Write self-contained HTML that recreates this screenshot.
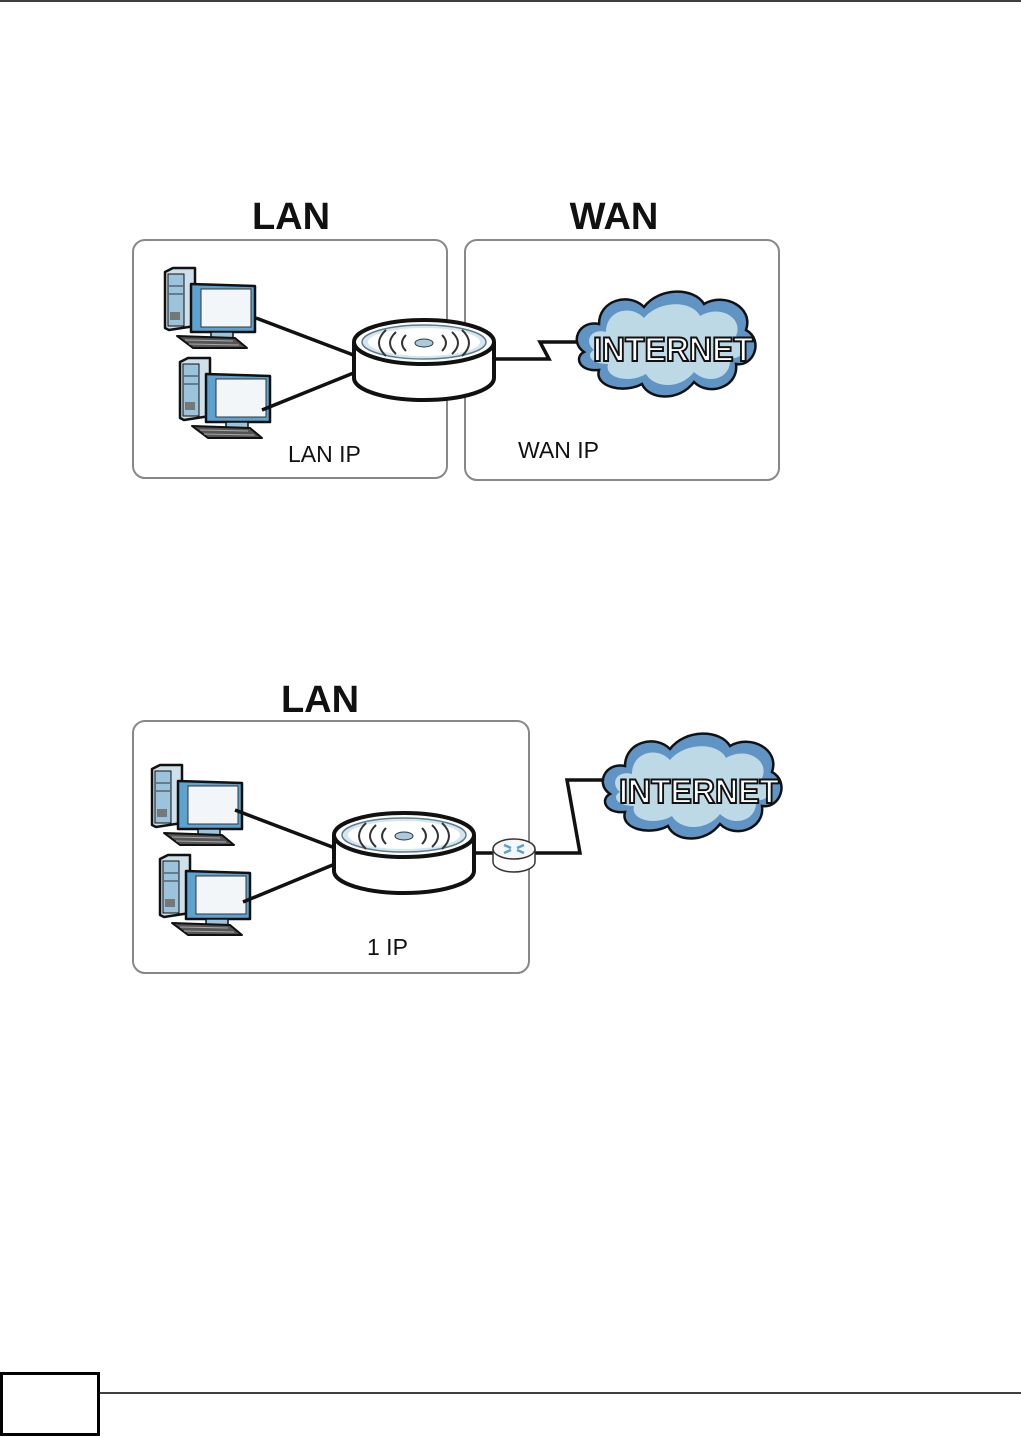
<!DOCTYPE html>
<html><head><style>
html,body{margin:0;padding:0;background:#fff;}
svg{display:block;}
text{font-family:"Liberation Sans",sans-serif;}
</style></head><body>
<svg width="1021" height="1437" viewBox="0 0 1021 1437" xmlns="http://www.w3.org/2000/svg">
<defs>
<g id="pc">
  <path d="M0,4 L8,0 L30,0 L30,58 L4,62 L0,60 Z" fill="#cfe0ea" stroke="#111" stroke-width="2.5" stroke-linejoin="round"/>
  <rect x="3" y="6" width="16" height="52" fill="#9cc3dc" stroke="#111" stroke-width="1"/>
  <line x1="4" y1="18" x2="18" y2="18" stroke="#333" stroke-width="1"/>
  <line x1="4" y1="26" x2="18" y2="26" stroke="#333" stroke-width="1"/>
  <rect x="5" y="44" width="10" height="8" fill="#777"/>
  <path d="M26,16 L90,18 L90,64 L26,64 Z" fill="#5ca3d1" stroke="#111" stroke-width="2.5" stroke-linejoin="round"/>
  <rect x="36" y="21" width="50" height="38" fill="#f2f6f8" stroke="#333" stroke-width="1"/>
  <rect x="46" y="64" width="22" height="6" fill="#9cc3dc" stroke="#111" stroke-width="1.5"/>
  <path d="M12,68 L70,70 L82,80 L28,80 Z" fill="#555" stroke="#111" stroke-width="2" stroke-linejoin="round"/>
  <path d="M20,72 L68,73 M24,76 L74,77" stroke="#aaa" stroke-width="1"/>
</g>
<g id="router">
  <path d="M-70,0 L-70,36 A70,22 0 0 0 70,36 L70,0" fill="#fff" stroke="#111" stroke-width="4"/>
  <ellipse cx="0" cy="0" rx="70" ry="22" fill="#fff" stroke="#111" stroke-width="4"/>
  <ellipse cx="0" cy="0" rx="62" ry="17" fill="#d5e6ef" stroke="#5a7d92" stroke-width="1.5"/>
  <ellipse cx="0" cy="0" rx="56" ry="14" fill="#fff" stroke="none"/>
  <ellipse cx="0" cy="1" rx="9" ry="4" fill="#a9cbe0" stroke="#333" stroke-width="1"/>
  <g fill="none" stroke="#333" stroke-width="2">
    <path d="M-18,-7 Q-26,1 -18,9 M18,-7 Q26,1 18,9"/>
    <path d="M-28,-10 Q-40,1 -28,12 M28,-10 Q40,1 28,12"/>
    <path d="M-38,-12 Q-52,1 -38,14 M38,-12 Q52,1 38,14"/>
  </g>
</g>
<g id="cloud">
  <path d="M10,60 C-5,50 5,28 25,32 C25,8 55,0 70,15 C85,-5 120,-5 130,12 C150,0 180,15 172,38 C190,48 180,75 162,72 C165,95 135,105 120,90 C105,110 75,108 68,92 C50,102 20,95 25,78 C5,80 0,65 10,60 Z" fill="#5f94c4" stroke="#111" stroke-width="2.5"/>
  <path d="M20,58 C10,50 16,36 32,40 C32,18 57,12 70,26 C85,8 118,8 126,24 C146,12 170,26 162,44 C176,52 170,68 156,66 C158,86 135,94 120,80 C106,98 80,96 72,82 C55,92 30,86 34,72 C16,72 12,62 20,58 Z" fill="#bdd9e6"/>
</g>
</defs>

<line x1="0" y1="1" x2="1021" y2="1" stroke="#000" stroke-width="1.5"/>

<text x="291" y="229" font-size="38" font-weight="bold" text-anchor="middle" fill="#111">LAN</text>
<text x="614" y="229" font-size="38" font-weight="bold" text-anchor="middle" fill="#111">WAN</text>
<rect x="133" y="240" width="314" height="238" rx="12" fill="none" stroke="#888" stroke-width="2"/>
<rect x="465" y="240" width="314" height="240" rx="12" fill="none" stroke="#888" stroke-width="2"/>
<use href="#pc" x="165" y="268"/>
<use href="#pc" x="180" y="358"/>
<line x1="256" y1="318" x2="356" y2="356" stroke="#111" stroke-width="3.5"/>
<line x1="262" y1="410" x2="356" y2="372" stroke="#111" stroke-width="3.5"/>
<polyline points="494,359 549,359 540,342 592,342" fill="none" stroke="#111" stroke-width="3.5"/>
<use href="#router" x="424" y="342"/>
<use href="#cloud" x="574" y="292"/>
<text x="673" y="361" font-size="34" font-weight="bold" text-anchor="middle" fill="#fff" stroke="#111" stroke-width="2" textLength="160" lengthAdjust="spacingAndGlyphs">INTERNET</text>
<text x="288" y="462" font-size="23" fill="#111">LAN IP</text>
<text x="518" y="458" font-size="23" fill="#111">WAN IP</text>

<text x="320" y="712" font-size="38" font-weight="bold" text-anchor="middle" fill="#111">LAN</text>
<rect x="133" y="721" width="396" height="252" rx="12" fill="none" stroke="#888" stroke-width="2"/>
<use href="#pc" x="152" y="765"/>
<use href="#pc" x="160" y="855"/>
<line x1="235" y1="810" x2="335" y2="848" stroke="#111" stroke-width="3.5"/>
<line x1="243" y1="902" x2="335" y2="864" stroke="#111" stroke-width="3.5"/>
<use href="#router" x="404" y="835"/>
<line x1="474" y1="853" x2="495" y2="853" stroke="#111" stroke-width="3.5"/>
<polyline points="534,853 580,853 567,780 612,780" fill="none" stroke="#111" stroke-width="3.5"/>
<g>
  <path d="M493,849 L493,862 A21,10 0 0 0 535,862 L535,849" fill="#fff" stroke="#333" stroke-width="1.5"/>
  <ellipse cx="514" cy="849" rx="21" ry="10" fill="#f4f8fa" stroke="#333" stroke-width="1.5"/>
  <path d="M504,845 L511,848 M524,845 L517,848 M504,853 L511,850 M524,853 L517,850" stroke="#5a9fd0" stroke-width="2.5"/>
</g>
<use href="#cloud" x="600" y="734"/>
<text x="699" y="803" font-size="34" font-weight="bold" text-anchor="middle" fill="#fff" stroke="#111" stroke-width="2" textLength="160" lengthAdjust="spacingAndGlyphs">INTERNET</text>
<text x="367" y="955" font-size="23" fill="#111">1 IP</text>

<rect x="1.5" y="1373.5" width="97" height="61" fill="none" stroke="#000" stroke-width="3"/>
<line x1="99" y1="1393" x2="1021" y2="1393" stroke="#000" stroke-width="1.5"/>
</svg>
</body></html>
